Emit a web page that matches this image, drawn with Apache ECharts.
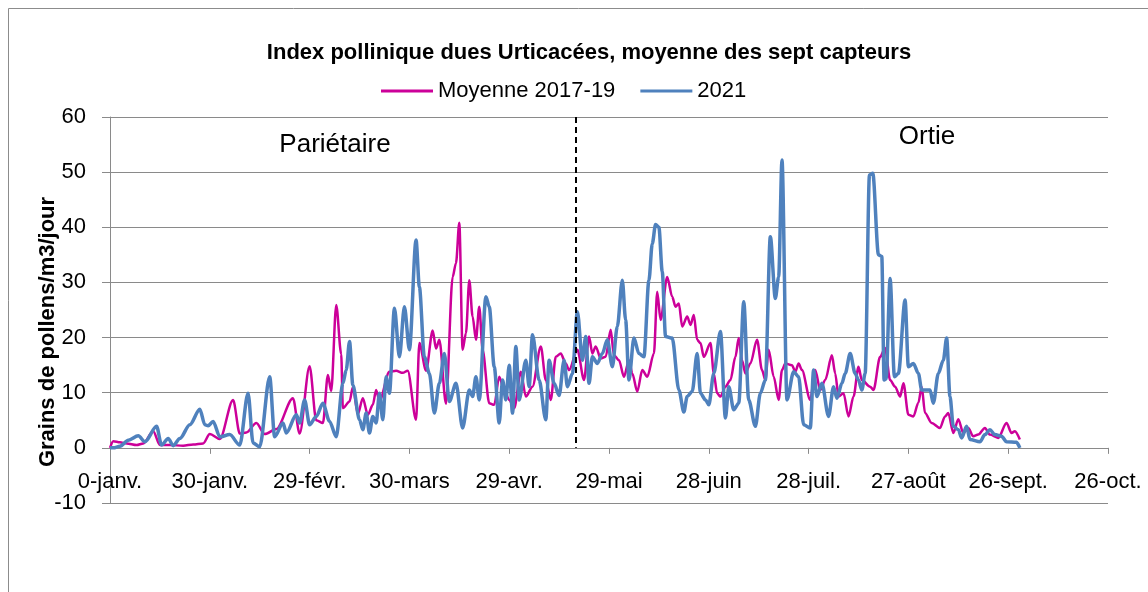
<!DOCTYPE html>
<html>
<head>
<meta charset="utf-8">
<title>Index pollinique Urticacées</title>
<script src="https://cdn.jsdelivr.net/npm/echarts@6/dist/echarts.min.js"></script>
<style>
    html, body {
        margin: 0;
        padding: 0;
        background: #ffffff;
    }
    #chart {
        width: 1148px;
        height: 592px;
    }
</style>
</head>
<body>
<div id="chart"></div>
<script>
// ========================================
// Données (jour de l'année, valeur)
// ========================================

const xTickLabels = [
    "0-janv.", "30-janv.", "29-févr.", "30-mars", "29-avr.", "29-mai",
    "28-juin", "28-juil.", "27-août", "26-sept.", "26-oct."
];

// Moyenne 2017-19
const pinkDays = [
    0, 1, 3, 5, 8, 10, 13, 15, 18, 22, 25, 28,
    30, 33, 37, 39, 41, 44, 46.5, 50, 55, 57, 60, 62, 64,
    65.5, 66.5, 68, 69.5, 70, 72, 73, 74.5, 76, 77.5, 79, 80, 81,
    84, 86, 88, 89.5, 92, 93, 95, 97, 98, 99,
    101, 103, 104, 105, 106, 107, 108, 109, 110, 111, 112,
    114, 115.5, 117, 118.5, 120, 121.5, 123.5, 125, 127, 129.5,
    131, 132.5, 134, 135.5, 137, 138, 140.5, 142.5, 144, 145, 146,
    147.5, 149, 150.5, 151.5, 153, 154.5, 156, 157, 158.5, 160,
    161.5, 163.5, 164.5, 165.5, 167.5, 169, 170, 171, 172, 173.5,
    174.5, 175.5, 176.5, 177.5, 178.5, 180.5, 181.5, 182.5, 183.5,
    185, 186.5, 188, 189, 190, 191, 192.5, 194.5, 196, 197, 198,
    199.5, 201, 202, 203, 205, 206, 207, 208, 210.5, 212, 213.5,
    215, 217, 218, 219, 220.5, 222, 223.5, 225, 226, 228.5, 229.5,
    231.5, 233, 234.5, 236, 237.5, 238.5, 240, 241.5, 243, 244,
    245, 247, 249.5, 251, 252, 253.5, 255, 256.5, 258, 259.5, 261,
    263, 264.5, 267, 269.5, 271, 272, 273.5
];
const pinkVals = [
    0, 1.2, 1, 0.8, 0.5, 0.8, 3, 0.5, 0.5, 0.4, 0.6, 0.8,
    2.5, 1.6, 8.7, 2.6, 2.8, 4.5, 2.5, 3.4, 9, 2.6, 14.8, 5, 4.5,
    13.2, 10.3, 25.9, 17, 7.2, 8.4, 11, 6.1, 9, 6, 7.8, 10.5, 8.5,
    13.8, 14, 13.6, 14, 5.1, 19, 14, 21.3, 18, 19.6,
    8, 31, 33.5, 40.8, 17.8, 20.8, 30.4, 23.8, 19.6, 25.6, 17.8,
    8.1, 7.8, 12.9, 10.5, 8.7, 7.2, 13.8, 9.3, 11.1, 18.4,
    12.3, 8.7, 16.5, 17.1, 15.3, 14.1, 17.8, 12.3, 20.2, 17.1, 18.4,
    16.2, 16.5, 21.4, 16.8, 15.9, 12.9, 15.9, 13.5, 10.2, 14.1,
    12.9, 17.1, 28.3, 23.2, 31, 27.4, 25.6, 26.2, 22, 23.8,
    22.3, 24.1, 19.6, 19, 16.5, 19, 13.5, 9.9, 9.3,
    11.1, 12.3, 16.5, 19.9, 15.9, 13.5, 15.3, 19.6, 14.1, 12.3, 17.8,
    12.9, 8.7, 14.1, 15.3, 15, 13.8, 15.3, 14.1, 8.7, 14.1, 10.5,
    12.3, 16.8, 13.5, 9.3, 9.9, 5.7, 9.3, 14.7, 12.3, 11.1, 10.5,
    16.5, 18.1, 12.3, 11.1, 9.3, 11.7, 6, 5.7, 8.2, 11.1,
    6.3, 4.5, 3.6, 5.7, 6.3, 2.7, 5.2, 2.7, 3.6, 2.1, 2.4,
    3.6, 2.4, 1.8, 4.5, 2.7, 3, 1.5
];

// 2021
const blueDays = [
    0, 1, 3, 5.5, 8.5, 10.5, 14, 15.5, 17.5, 19, 21, 24, 27, 28.5,
    29.5, 31, 33, 36, 39, 41.5, 43, 45, 48, 49.5, 52, 53, 56, 57,
    58.5, 60, 62, 64, 66, 68, 70, 71, 72, 73, 75, 76, 77, 78, 79,
    80, 81, 82, 83, 84, 85.5, 87, 88.5, 90, 92, 93, 94.5, 96, 97.5,
    99, 100.5, 102, 104, 106, 108, 109, 110, 111, 113, 114, 115.5,
    117, 118, 119, 120, 121, 122, 123, 125, 126, 127, 129, 131, 132,
    133.5, 135, 136.5, 137.5, 139, 140.5, 142, 143, 144, 145, 146.5,
    148, 149.5, 151, 152.5, 154, 155, 156, 157.5, 159, 160.5, 162,
    163, 164, 165, 166, 167, 169, 171, 172.5, 173.5, 175, 176.5,
    177.5, 179, 180, 181.5, 183.5, 185, 186, 187.5, 189, 190.5, 192,
    194, 195.5, 197, 198.5, 200, 201, 202, 203.5, 205.5, 207, 208.5,
    210.5, 211.5, 212.5, 214, 216, 217.5, 218.5, 220, 221, 222.5,
    224, 225, 226, 227, 228.3, 229.3, 231, 232, 232.7, 233.3, 234.5,
    235.8, 237, 239, 240, 241.5, 243, 244, 246.5, 247.5, 249, 250.5,
    251.5, 252.5, 253.5, 255, 256, 257.5, 258.5, 261.5, 263, 264.5,
    266, 268, 269.5, 272.5, 273.5
];
const blueVals = [
    0, 0, 0.3, 1.4, 2.2, 1.1, 3.9, 0.5, 1.7, 0.4, 1.7, 4.2, 7, 4.2,
    4, 4.8, 2, 2.4, 0.5, 9.9, 0.9, 0.2, 12.9, 2, 4.5, 2.7, 6, 4.5,
    8.7, 4.2, 5.7, 8.1, 4.8, 2, 11.7, 14.1, 19.3, 11.4, 5.1, 3.3, 6.3, 2.7, 5.7,
    4.5, 9.9, 5.1, 12.9, 9.9, 25.3, 16.5, 25.6, 17.8, 37.7, 29.2, 16.5, 13.5, 6.3,
    11.7, 17.1, 8.4, 11.7, 3.6, 10.5, 9.3, 12.9, 8.7, 27.4, 25.6, 14.7,
    4.5, 12.3, 8.7, 15, 6.3, 18.4, 8.7, 15.9, 11.1, 20.5, 12.3, 5.1, 15.9,
    11.7, 9.5, 15.9, 11.1, 13.5, 24.7, 15.9, 20.2, 11.7, 16.5, 15.3,
    17.1, 19.6, 14.7, 22, 30.4, 23.2, 12.3, 19.9, 17.1, 16.5, 30.4,
    37, 40.5, 40, 32, 20.2, 19.9, 10.5, 6.5, 9.3, 10.2, 17.1,
    9.9, 8.7, 7.8, 13.5, 21.1, 5.4, 11.1, 6.9, 8.1, 26.5, 8.7,
    3.9, 9.9, 12.3, 38.3, 27.1, 31, 52.2, 8.7, 13.8, 12.9, 4.2,
    3.6, 14.1, 9.3, 11.7, 5.7, 11.1, 9, 11.7, 13.5, 17.1,
    13.5, 12.3, 10.5, 13.5, 49.5, 49.8, 35, 34.7, 12.3, 12.5, 30.7,
    12.9, 13.5, 26.8, 14.7, 15.3, 13.5, 10.5, 10.5, 8.1, 13.5, 15.9,
    19.9, 9.3, 3.9, 3.3, 1.8, 3.9, 1.5, 1.1, 2.4, 3.3,
    2.4, 2.1, 1.1, 1, 0
];

// limite Pariétaire / Ortie
const splitDay = 140;

// ========================================
// Outils
// ========================================

function zip(days, vals) {
    return days.map((d, i) => [d, vals[i]]);
}

const FONT = "Liberation Sans";
const GRID_COLOR = "#8a8a8a";

// ========================================
// Graphique
// ========================================

const chart = echarts.init(document.getElementById("chart"));

chart.setOption({
    animation: false,
    backgroundColor: "#ffffff",
    textStyle: {
        fontFamily: FONT
    },
    title: {
        text: "Index pollinique dues Urticacées, moyenne des sept capteurs",
        left: 584,
        top: 37,
        textAlign: "center",
        textStyle: {
            fontFamily: FONT,
            fontSize: 22,
            fontWeight: "bold",
            color: "#000000"
        }
    },
    legend: {
        left: 376,
        top: 75,
        itemWidth: 52,
        itemHeight: 3,
        itemGap: 25,
        icon: "rect",
        textStyle: {
            fontFamily: FONT,
            fontSize: 22,
            color: "#000000"
        },
        data: ["Moyenne 2017-19", "2021"]
    },
    grid: {
        left: 110,
        right: 40,
        top: 117,
        bottom: 89
    },
    xAxis: {
        type: "value",
        min: 0,
        max: 300,
        interval: 30,
        axisLine: {
            onZero: true,
            lineStyle: {
                color: GRID_COLOR,
                width: 1
            }
        },
        axisTick: {
            length: 6,
            lineStyle: {
                color: GRID_COLOR
            }
        },
        axisLabel: {
            // les étiquettes restent sous la ligne du zéro
            margin: -32,
            fontSize: 22,
            color: "#000000",
            showMinLabel: true,
            showMaxLabel: true,
            formatter: v => xTickLabels[Math.round(v / 30)]
        },
        splitLine: {
            show: false
        }
    },
    yAxis: {
        type: "value",
        min: -10,
        max: 60,
        interval: 10,
        axisLine: {
            show: true,
            lineStyle: {
                color: GRID_COLOR
            }
        },
        axisTick: {
            show: true,
            length: 8,
            lineStyle: {
                color: GRID_COLOR
            }
        },
        axisLabel: {
            margin: 24,
            fontSize: 22,
            color: "#000000"
        },
        splitLine: {
            show: true,
            lineStyle: {
                color: GRID_COLOR,
                width: 1
            }
        }
    },
    graphic: [
        {
            // cadre du graphique
            type: "rect",
            silent: true,
            shape: { x: 8.5, y: 8.5, width: 1200, height: 700 },
            style: { fill: "none", stroke: "#8c8c8c", lineWidth: 1 }
        },
        {
            type: "text",
            x: 48,
            y: 332,
            rotation: Math.PI / 2,
            style: {
                text: "Grains de pollens/m3/jour",
                font: "bold 22px " + FONT,
                fill: "#000000",
                textAlign: "center",
                textVerticalAlign: "middle"
            }
        },
        {
            type: "text",
            x: 335,
            y: 145,
            style: {
                text: "Pariétaire",
                font: "26px " + FONT,
                fill: "#000000",
                textAlign: "center",
                textVerticalAlign: "middle"
            }
        },
        {
            type: "text",
            x: 927,
            y: 137,
            style: {
                text: "Ortie",
                font: "26px " + FONT,
                fill: "#000000",
                textAlign: "center",
                textVerticalAlign: "middle"
            }
        }
    ],
    series: [
        {
            name: "Moyenne 2017-19",
            type: "line",
            data: zip(pinkDays, pinkVals),
            symbol: "none",
            smooth: 0.3,
            smoothMonotone: "x",
            color: "#CC0099",
            lineStyle: {
                width: 2.5,
                color: "#CC0099"
            },
            markLine: {
                silent: true,
                symbol: "none",
                label: { show: false },
                lineStyle: {
                    color: "#000000",
                    type: [6, 4],
                    width: 2
                },
                data: [
                    [
                        { coord: [splitDay, 60] },
                        { coord: [splitDay, 0] }
                    ]
                ]
            }
        },
        {
            name: "2021",
            type: "line",
            data: zip(blueDays, blueVals),
            symbol: "none",
            smooth: 0.3,
            smoothMonotone: "x",
            color: "#4F81BD",
            lineStyle: {
                width: 3.5,
                color: "#4F81BD"
            }
        }
    ]
});
</script>
</body>
</html>
